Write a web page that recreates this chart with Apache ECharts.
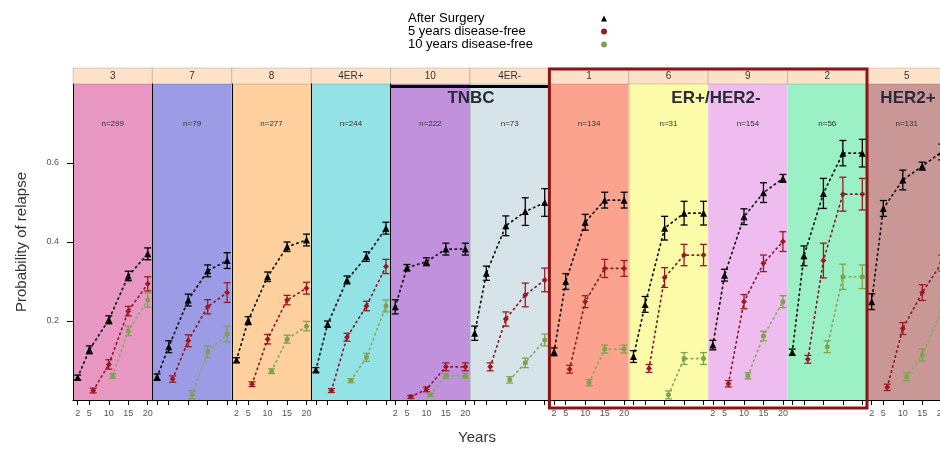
<!DOCTYPE html>
<html>
<head>
<meta charset="utf-8">
<script src="https://cdn.jsdelivr.net/npm/echarts@6/dist/echarts.min.js"></script>
<style>
  html, body { margin: 0; background: #fff; }
  #chart { width: 940px; height: 449px; }
</style>
</head>
<body>
<div id="chart"></div>
<script>
// panels (clusters) in plotting order
const panelNames = ['3', '7', '8', '4ER+', '10', '4ER-', '1', '6', '9', '2', '5']
const panelCounts = ['n=299', 'n=79', 'n=277', 'n=244', 'n=222', 'n=73', 'n=134', 'n=31', 'n=154', 'n=56', 'n=131']
const panelColors = ['#e897c3', '#9b9be6', '#fdd09e', '#93e2e6', '#c291de', '#d6e3e8',
  '#fba38e', '#fcfba8', '#eebcee', '#9bf0c6', '#c99796']

const xTicks = [2, 5, 10, 15, 20]
const yTicks = [0.2, 0.4, 0.6]

const yearsSurgery = [2, 5, 10, 15, 20]
const years5 = [6, 10, 15, 20]
const years10 = [11, 15, 20]

// probability of relapse, one row per panel
const surgery = [
  [0.057, 0.127, 0.203, 0.314, 0.370],
  [0.058, 0.135, 0.253, 0.327, 0.353],
  [0.101, 0.201, 0.312, 0.388, 0.405],
  [0.076, 0.192, 0.304, 0.363, 0.435],
  [0.236, 0.335, 0.350, 0.382, 0.382],
  [0.169, 0.321, 0.441, 0.477, 0.500],
  [0.122, 0.300, 0.450, 0.506, 0.506],
  [0.110, 0.242, 0.435, 0.473, 0.473],
  [0.139, 0.316, 0.464, 0.525, 0.561],
  [0.121, 0.365, 0.523, 0.625, 0.625],
  [0.249, 0.485, 0.557, 0.592, 0.628]
]
const surgeryErr = [
  [0.006, 0.010, 0.010, 0.012, 0.015],
  [0.008, 0.015, 0.015, 0.015, 0.020],
  [0.006, 0.010, 0.012, 0.012, 0.015],
  [0.006, 0.008, 0.010, 0.012, 0.015],
  [0.018, 0.008, 0.010, 0.015, 0.015],
  [0.018, 0.018, 0.025, 0.035, 0.035],
  [0.010, 0.020, 0.020, 0.020, 0.020],
  [0.015, 0.020, 0.030, 0.030, 0.030],
  [0.012, 0.015, 0.020, 0.025, 0.010],
  [0.008, 0.025, 0.038, 0.032, 0.035],
  [0.020, 0.020, 0.025, 0.010, 0.020]
]
const free5 = [
  [0.024, 0.090, 0.225, 0.294],
  [0.053, 0.150, 0.236, 0.272],
  [0.040, 0.154, 0.253, 0.283],
  [0.024, 0.159, 0.238, 0.338],
  [0.008, 0.027, 0.084, 0.084],
  [0.084, 0.205, 0.266, 0.304],
  [0.078, 0.249, 0.333, 0.333],
  [0.080, 0.310, 0.367, 0.367],
  [0.041, 0.249, 0.346, 0.401],
  [0.103, 0.353, 0.521, 0.521],
  [0.032, 0.181, 0.272, 0.347]
]
const free5Err = [
  [0.006, 0.012, 0.012, 0.018],
  [0.008, 0.015, 0.018, 0.025],
  [0.006, 0.012, 0.012, 0.015],
  [0.005, 0.010, 0.012, 0.018],
  [0.004, 0.006, 0.010, 0.010],
  [0.010, 0.018, 0.030, 0.030],
  [0.010, 0.015, 0.023, 0.020],
  [0.010, 0.025, 0.027, 0.027],
  [0.008, 0.018, 0.021, 0.025],
  [0.010, 0.044, 0.043, 0.040],
  [0.008, 0.015, 0.020, 0.020]
]
const free10 = [
  [0.061, 0.175, 0.253],
  [0.013, 0.122, 0.167],
  [0.073, 0.154, 0.187],
  [0.049, 0.108, 0.238],
  [0.013, 0.061, 0.061],
  [0.051, 0.094, 0.152],
  [0.044, 0.129, 0.129],
  [0.013, 0.105, 0.105],
  [0.061, 0.162, 0.249],
  [0.135, 0.312, 0.312],
  [0.059, 0.114, 0.228]
]
const free10Err = [
  [0.006, 0.012, 0.018],
  [0.010, 0.015, 0.020],
  [0.006, 0.010, 0.012],
  [0.005, 0.010, 0.015],
  [0.004, 0.006, 0.006],
  [0.008, 0.012, 0.015],
  [0.008, 0.010, 0.010],
  [0.010, 0.015, 0.015],
  [0.008, 0.012, 0.015],
  [0.015, 0.032, 0.030],
  [0.010, 0.015, 0.020]
]

const chart = echarts.init(document.getElementById('chart'))

const FONT = '"Liberation Sans", Arial, sans-serif'
const left0 = 73
const panelW = 79.4
const top0 = 84
const panelH = 316
const panelLeft = i => left0 + i * panelW
// left border of each panel: solid between groups, faint inside a group
const borderColors = ['#000', '#000', '#000', '#000', '#000', 'rgba(0,0,0,0.12)',
  '#000', 'rgba(0,0,0,0.12)', 'rgba(0,0,0,0)', 'rgba(0,0,0,0)', '#000']

const kinds = [
  { name: 'After Surgery', xs: yearsSurgery, ys: surgery, err: surgeryErr, color: '#000000', line: '#111111', symbol: 'triangle', size: 7 },
  { name: '5 years disease-free', xs: years5, ys: free5, err: free5Err, color: '#9a1a22', line: '#8b1a2b', symbol: 'diamond', size: 6 },
  { name: '10 years disease-free', xs: years10, ys: free10, err: free10Err, color: '#7ea34c', line: '#86a862', symbol: 'circle', size: 5 }
]

const errorBar = color => (params, api) => {
  const x = api.value(0)
  const y = api.value(1)
  const e = api.value(2)
  const hi = api.coord([x, y + e])
  const lo = api.coord([x, y - e])
  const w = 3.5
  const style = { stroke: color, lineWidth: 1.3 }
  return {
    type: 'group',
    children: [
      { type: 'line', shape: { x1: hi[0], y1: hi[1], x2: lo[0], y2: lo[1] }, style },
      { type: 'line', shape: { x1: hi[0] - w, y1: hi[1], x2: hi[0] + w, y2: hi[1] }, style },
      { type: 'line', shape: { x1: lo[0] - w, y1: lo[1], x2: lo[0] + w, y2: lo[1] }, style }
    ]
  }
}

const grid = []
const xAxis = []
const yAxis = []
const series = []

panelNames.forEach((p, i) => {
  grid.push({
    left: panelLeft(i), top: top0, width: panelW, height: panelH,
    outerBoundsMode: 'none', containLabel: false,
    show: true, backgroundColor: panelColors[i], borderWidth: 0
  })
  xAxis.push({
    gridIndex: i, type: 'value', min: 0.8, max: 21.2,
    axisLine: { show: true, lineStyle: { color: '#000', width: 1 } },
    axisTick: { show: true, customValues: xTicks, length: 5, lineStyle: { color: '#000' } },
    axisLabel: { show: i % 2 === 0, customValues: xTicks, fontSize: 9, color: '#555', margin: 9, fontFamily: FONT },
    splitLine: { show: false }
  })
  yAxis.push({
    gridIndex: i, type: 'value', min: 0, max: 0.8,
    axisLine: { show: true, lineStyle: { color: borderColors[i], width: 1 } },
    axisTick: { show: i === 0, customValues: yTicks, length: 6, lineStyle: { color: '#000' } },
    axisLabel: { show: i === 0, customValues: yTicks, fontSize: 9, color: '#555', margin: 14, fontFamily: FONT, formatter: v => v.toFixed(1) },
    splitLine: { show: false },
    name: i === 0 ? 'Probability of relapse' : '',
    nameLocation: 'middle', nameGap: 44,
    nameTextStyle: { fontSize: 15, color: '#333', fontFamily: FONT }
  })
  kinds.forEach(k => {
    series.push({
      name: k.name, type: 'line', xAxisIndex: i, yAxisIndex: i,
      data: k.xs.map((x, j) => [x, k.ys[i][j]]),
      symbol: k.symbol, symbolSize: k.size,
      itemStyle: { color: k.color },
      lineStyle: { color: k.line, width: 1.7, type: [1.4, 3.8], cap: 'round' },
      z: 3
    })
    series.push({
      name: k.name, type: 'custom', xAxisIndex: i, yAxisIndex: i,
      data: k.xs.map((x, j) => [x, k.ys[i][j], k.err[i][j]]),
      encode: { x: 0, y: 1 },
      itemStyle: { color: k.color },
      renderItem: errorBar(k.color),
      z: 2
    })
  })
})

// strips, n labels and group annotations
const graphic = []
panelNames.forEach((p, i) => {
  graphic.push({
    type: 'rect', shape: { x: panelLeft(i), y: 68, width: panelW, height: 16 },
    style: { fill: '#fde2c8', stroke: 'rgba(0,0,0,0.25)', lineWidth: 0.6 }
  })
  graphic.push({
    type: 'text', x: panelLeft(i) + panelW / 2, y: 76.5,
    style: { text: p, fontSize: 10, fill: '#333', align: 'center', verticalAlign: 'middle', fontFamily: FONT }
  })
  graphic.push({
    type: 'text', x: panelLeft(i) + panelW / 2, y: 124,
    style: { text: panelCounts[i], fontSize: 8, fill: '#333', align: 'center', verticalAlign: 'middle', fontFamily: FONT }
  })
})
graphic.push(
  { type: 'line', shape: { x1: panelLeft(4), y1: 86.5, x2: panelLeft(6), y2: 86.5 }, style: { stroke: '#000', lineWidth: 3 }, z: 10 },
  { type: 'text', x: 471, y: 98, style: { text: 'TNBC', fontSize: 17, fontWeight: 'bold', fill: '#2a2a3a', align: 'center', verticalAlign: 'middle', fontFamily: FONT }, z: 10 },
  { type: 'text', x: 716, y: 98, style: { text: 'ER+/HER2-', fontSize: 17, fontWeight: 'bold', fill: '#2a2a3a', align: 'center', verticalAlign: 'middle', fontFamily: FONT }, z: 10 },
  { type: 'text', x: 908, y: 98, style: { text: 'HER2+', fontSize: 17, fontWeight: 'bold', fill: '#2a2a3a', align: 'center', verticalAlign: 'middle', fontFamily: FONT }, z: 10 },
  { type: 'rect', shape: { x: panelLeft(6), y: 69, width: panelLeft(10) - panelLeft(6), height: 339 }, style: { fill: 'none', stroke: '#8b1414', lineWidth: 3 }, z: 20 },
  { type: 'text', x: 477, y: 438, style: { text: 'Years', fontSize: 15, fill: '#333', align: 'center', verticalAlign: 'middle', fontFamily: FONT } }
)

const option = {
  animation: false,
  backgroundColor: '#fff',
  legend: {
    orient: 'vertical', left: 403, top: 7, align: 'right',
    itemGap: 0, itemWidth: 6, itemHeight: 6, selectedMode: false,
    formatter: name => '{t|' + name + '}',
    textStyle: {
      color: '#000', fontFamily: FONT,
      rich: { t: { width: 188, align: 'left', fontSize: 13, lineHeight: 13, color: '#000', fontFamily: FONT } }
    },
    data: [
      { name: 'After Surgery', icon: 'triangle' },
      { name: '5 years disease-free', icon: 'circle' },
      { name: '10 years disease-free', icon: 'circle' }
    ]
  },
  grid, xAxis, yAxis, series, graphic
}

chart.setOption(option)
window.addEventListener('resize', () => chart.resize())
</script>
</body>
</html>
